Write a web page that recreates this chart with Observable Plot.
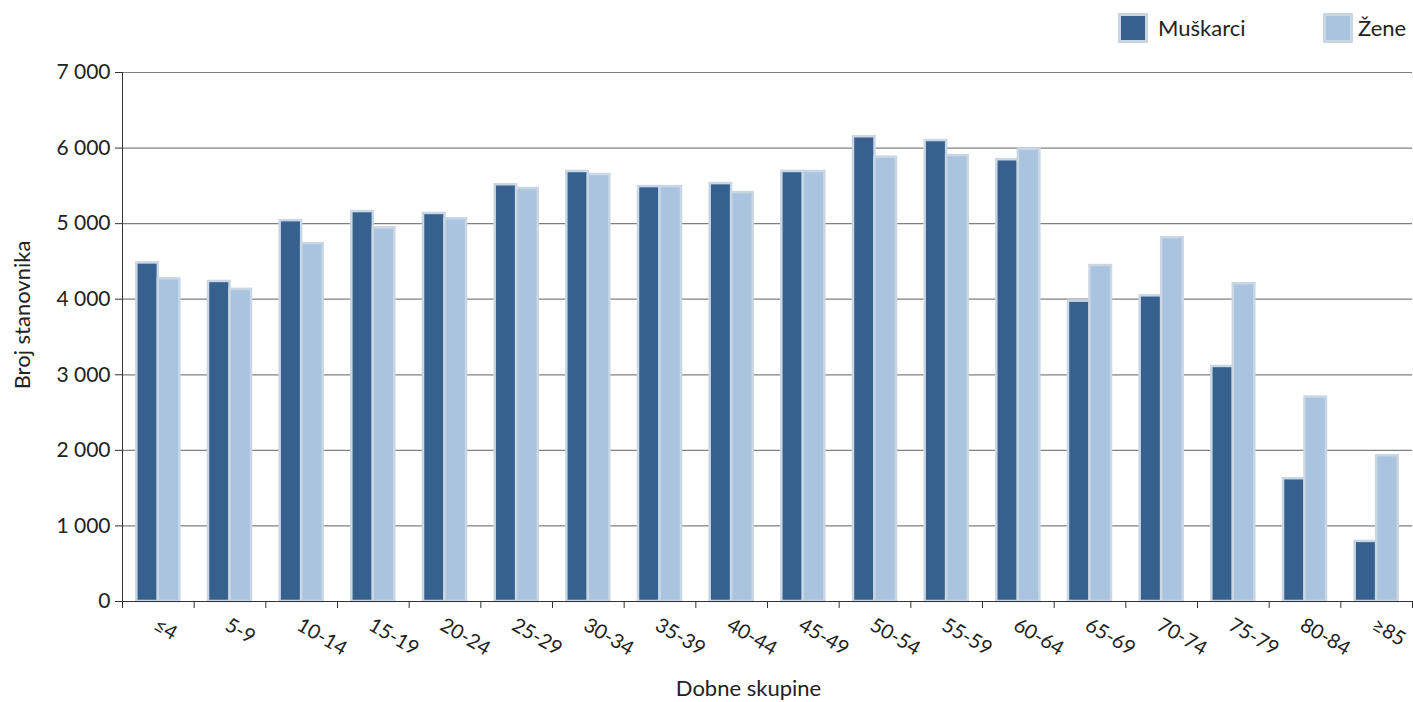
<!DOCTYPE html>
<html>
<head>
<meta charset="utf-8">
<script src="https://cdn.jsdelivr.net/npm/d3@7"></script>
<script src="https://cdn.jsdelivr.net/npm/@observablehq/plot@0.6"></script>
<style>
  html, body { margin: 0; padding: 0; background: #fff; }
  body { width: 1413px; height: 702px; position: relative; overflow: hidden; font-family: "Source Sans Pro", Lato, sans-serif; color: #222; }
  #legend { position: absolute; top: 0; left: 0; width: 1413px; height: 60px; }
  .sw { position: absolute; top: 13px; width: 24px; height: 24px; border: 3px solid #c9d6e4; }
  .lab { position: absolute; top: 13px; font-size: 22px; line-height: 30px; color: #222; }
  #chart { position: absolute; top: 0; left: 0; }
</style>
</head>
<body>
<div id="chart"></div>
<div id="legend">
  <div class="sw" style="left:1118px;background:#36618f"></div>
  <div class="lab" style="left:1158px">Muškarci</div>
  <div class="sw" style="left:1323px;background:#aac3df"></div>
  <div class="lab" style="left:1358px">Žene</div>
</div>
<script>
const ageGroups = ["≤4","5-9","10-14","15-19","20-24","25-29","30-34","35-39","40-44","45-49","50-54","55-59","60-64","65-69","70-74","75-79","80-84","≥85"];
const men   = [4480, 4235, 5040, 5160, 5135, 5515, 5690, 5490, 5530, 5690, 6150, 6100, 5845, 3975, 4045, 3110, 1625, 795];
const women = [4270, 4130, 4735, 4945, 5065, 5465, 5650, 5490, 5410, 5690, 5880, 5900, 5985, 4445, 4815, 4205, 2705, 1930];
const yTicks = [0, 1000, 2000, 3000, 4000, 5000, 6000, 7000];

const colorMen = "#36618f", colorWomen = "#aac3df", borderColor = "#c9d6e4";

const rows = ageGroups.map((a, i) => ({age: a, m: men[i], w: women[i]}));

const W = 1413, H = 702, mL = 122, mR = 1, mT = 72, mB = 101;
const bw = (W - mL - mR) / ageGroups.length;
const outer = bw * 0.2;
const mid = bw / 2;

const fmt = v => d3.format(",")(v).replace(/,/g, " ");

const chart = Plot.plot({
  width: W, height: H,
  marginLeft: mL, marginRight: mR, marginTop: mT, marginBottom: mB,
  style: {fontFamily: "'Source Sans Pro', Lato, sans-serif", fontSize: "21px", color: "#222", background: "#fff"},
  x: {domain: ageGroups, padding: 0, round: false},
  y: {domain: [0, 7000]},
  marks: [
    Plot.gridY(yTicks.filter(d => d > 0), {stroke: "#808080", strokeOpacity: 1, strokeWidth: 1.2}),
    Plot.barY(rows, {x: "age", y: "m", fill: colorMen, stroke: borderColor, strokeWidth: 2.5, insetLeft: outer, insetRight: mid}),
    Plot.barY(rows, {x: "age", y: "w", fill: colorWomen, stroke: borderColor, strokeWidth: 2.5, insetLeft: mid, insetRight: outer}),
    Plot.axisY({ticks: yTicks, tickFormat: fmt, tickSize: 7, tickPadding: 5, label: null, stroke: "#333", fill: "#222", fontSize: 21}),
    Plot.frame({anchor: "left", stroke: "#333"}),
    Plot.ruleY([0], {stroke: "#333", strokeWidth: 1.2}),
    Plot.ruleX(ageGroups, {x: d => d, y1: 0, y2: 0, insetBottom: -7, dx: -bw / 2, stroke: "#333"}),
    Plot.ruleX(ageGroups.slice(-1), {x: d => d, y1: 0, y2: 0, insetBottom: -7, dx: bw / 2, stroke: "#333"}),
    Plot.axisX({tickSize: 0, tickPadding: 22, tickRotate: 30, textAnchor: "start", label: null, fill: "#222", fontSize: 20, dx: -3}),
    Plot.text(["Broj stanovnika"], {frameAnchor: "left", textAnchor: "middle", lineAnchor: "middle", dx: -100, dy: -22, rotate: -90, fontSize: 22, fill: "#222"}),
    Plot.text(["Dobne skupine"], {frameAnchor: "bottom", textAnchor: "middle", lineAnchor: "middle", dx: -19, dy: 87, fontSize: 22, fill: "#222"})
  ]
});
document.getElementById("chart").appendChild(chart);
</script>
</body>
</html>
